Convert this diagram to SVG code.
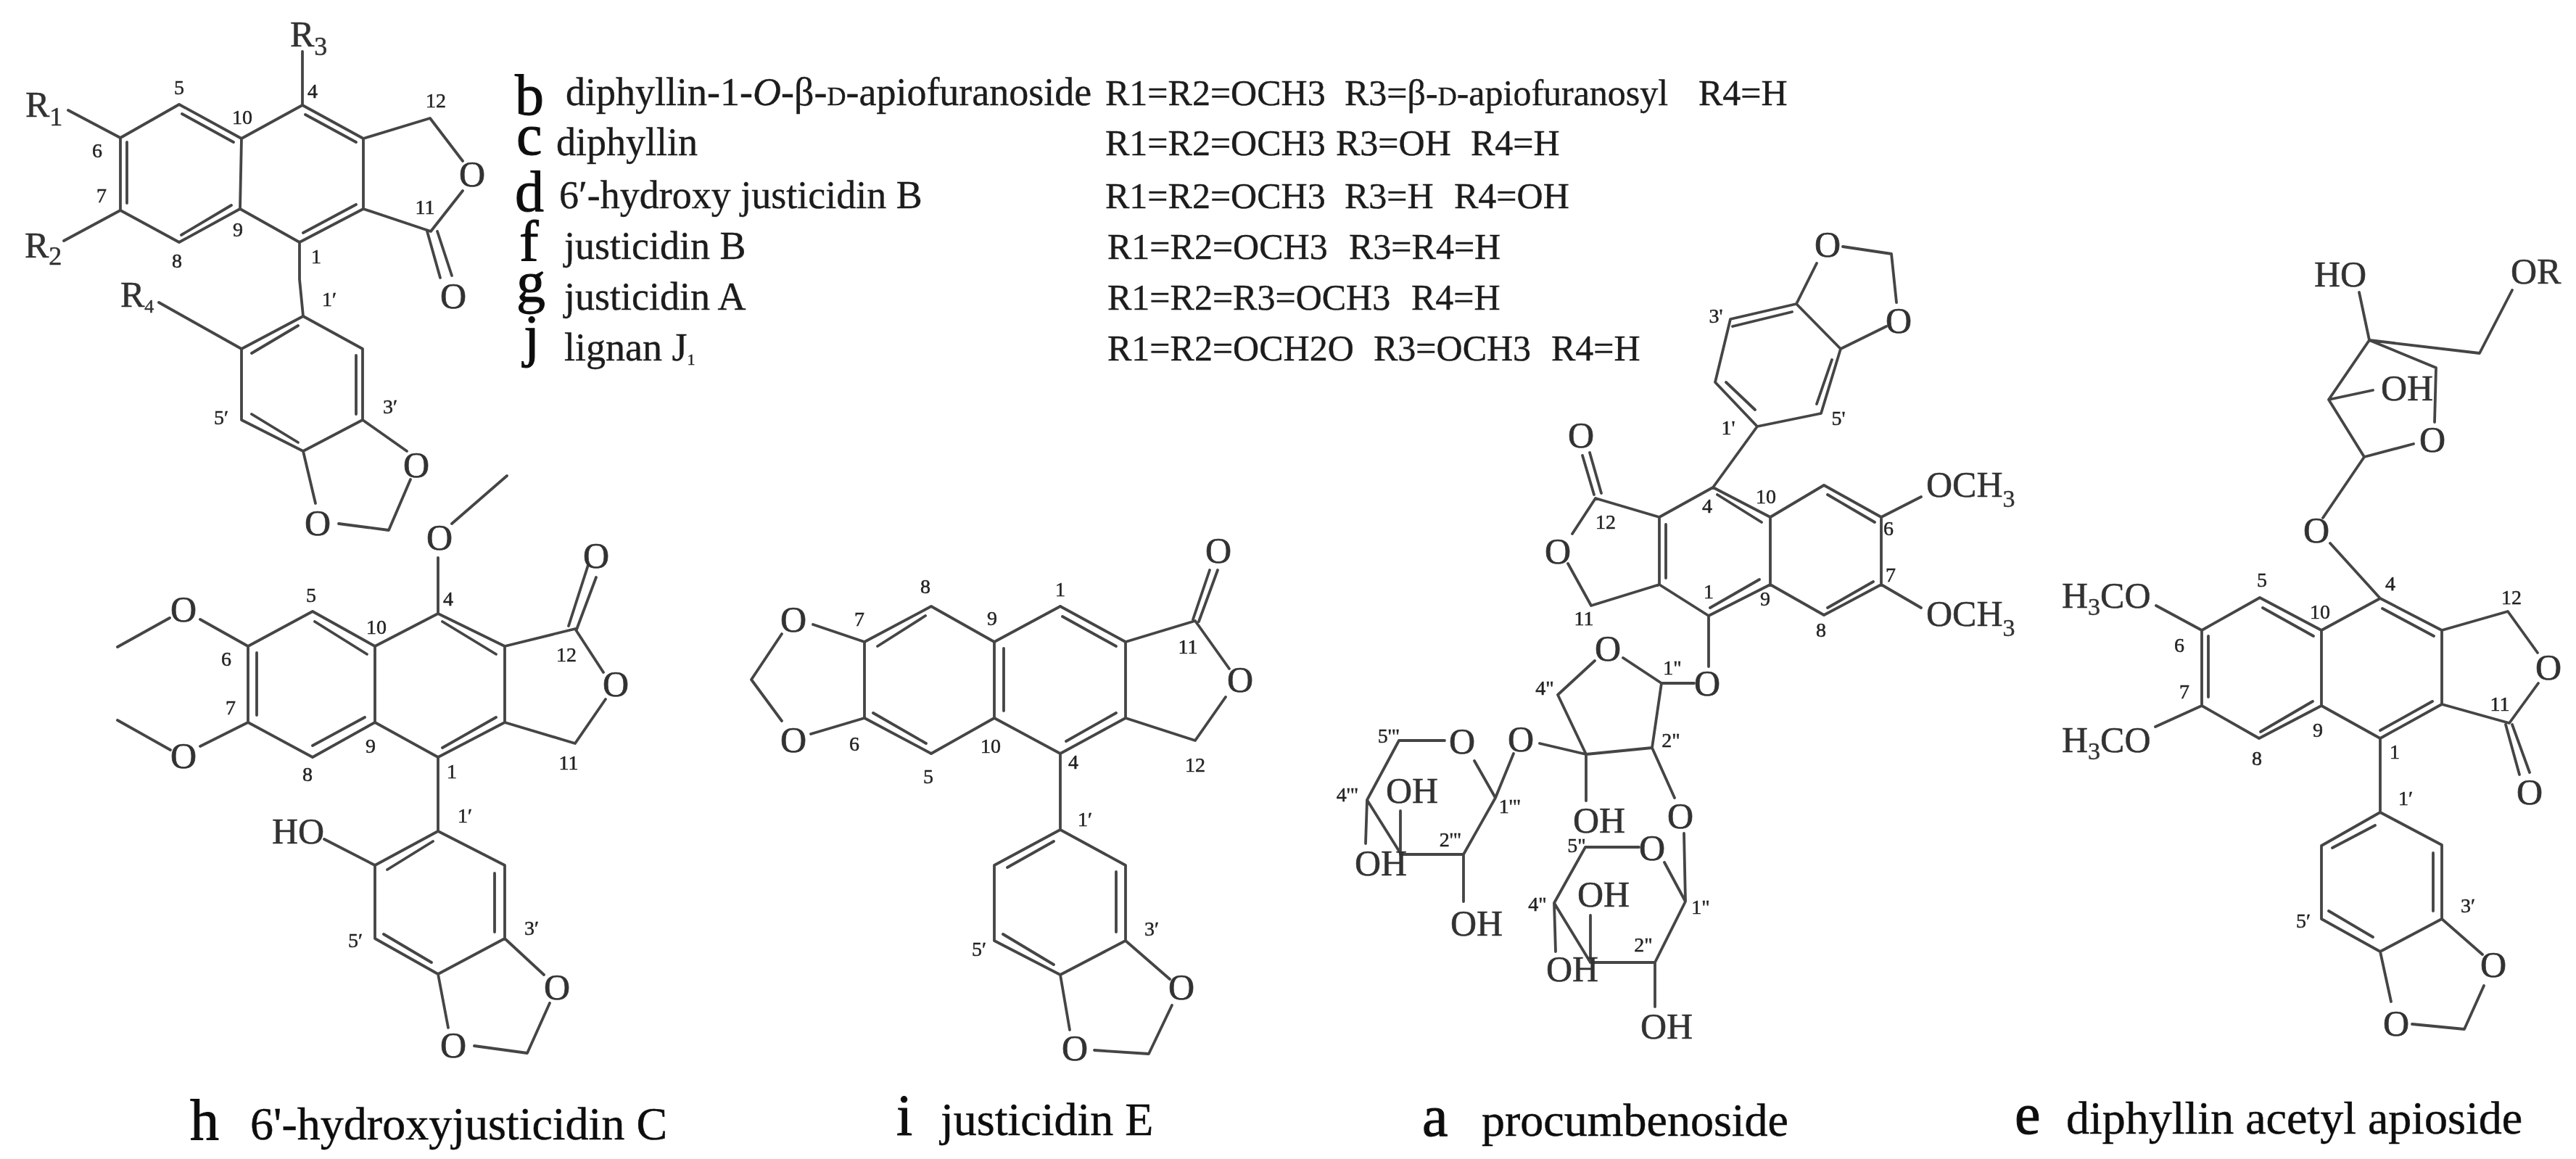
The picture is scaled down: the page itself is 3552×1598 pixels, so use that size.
<svg xmlns="http://www.w3.org/2000/svg" width="3552" height="1598" viewBox="0 0 3552 1598">
<defs><filter id="soft" x="0" y="0" width="3552" height="1598" filterUnits="userSpaceOnUse"><feGaussianBlur stdDeviation="0.7"/></filter></defs>
<style>
text{font-family:"Liberation Serif","Times New Roman",serif;fill:#1c1c1c}
.b{fill:none;stroke:#444;stroke-width:3.8;stroke-linecap:round;stroke-linejoin:round}
.o{font-size:50px;text-anchor:middle;dominant-baseline:central;fill:#333;stroke:#333;stroke-width:.7}
.a{font-size:50px;fill:#333;stroke:#333;stroke-width:.5}
.n{font-size:28px;text-anchor:middle;dominant-baseline:central;fill:#222;stroke:#222;stroke-width:.5}
.sub{font-size:36px}
.cap{font-size:64px;fill:#111;stroke:#111;stroke-width:.5}
.let{font-size:80px;fill:#111;stroke:#111;stroke-width:1}
.nm{font-size:54px;stroke:#1c1c1c;stroke-width:.4}
.r{font-size:50px;stroke:#1c1c1c;stroke-width:.4}
</style>
<rect width="3552" height="1598" fill="#fff"/>
<g filter="url(#soft)">
<g id="connectors">
<path id="bonds-top" class="b" d="M417 71V145M417 145L501 191L501 288L413 334L331 288L333 191L417 145M421 158L491 196M491 282L418 321M333 191L247 144L166 190L166 290L247 334L331 288M251 157L322 196M175 196V280M250 324L319 283M501 191L593 163L638 222M638 263L594 319L501 288M589 319L607 383M603 319L623 380M94 152L166 190M88 332L166 290M413 334L413 385L418 436M219 417L333 481M418 436L500 481L500 579L418 622L333 579L333 481L418 436M347 487L411 449M491 490V571M347 571L411 610M500 579L561 622M566 661L536 731L467 722M435 694L418 622"/>
<path id="bonds-h" class="b" d="M699 656L623 722M604 769V846M604 846L696 891L696 996L604 1044L517 996L517 891L604 846M610 857L684 902M610 1031L684 989M517 891L431 843L342 891L342 996L431 1044L517 996M434 857L506 902M354 900V986M431 1028L503 989M696 891L793 867L832 927M835 964L793 1025L696 996M784 863L811 779M795 868L822 796M276 854L342 891M276 1029L342 996M234 852L162 892M235 1034L162 993M604 1044V1146M604 1146L696 1193L696 1294L604 1343L517 1294L517 1193L604 1146M534 1199L597 1160M682 1204V1285M529 1288L595 1327M447 1157L517 1193M696 1294L750 1344M758 1383L727 1452L654 1442M618 1417L604 1343"/>
<path id="bonds-i" class="b" d="M1462 836L1552 885L1552 990L1462 1039L1371 990L1371 885L1462 836M1465 850L1539 891M1470 1022L1539 983M1384 894V980M1371 885L1284 836L1192 885L1192 990L1284 1039L1371 990M1210 891L1276 849M1204 983L1277 1025M1552 885L1648 856L1695 922M1690 961L1648 1021L1552 990M1645 854L1668 786M1653 857L1679 786M1121 861L1192 885M1118 1012L1192 990M1078 874L1036 937L1078 994M1462 1039V1144M1462 1144L1552 1193L1552 1297L1462 1344L1371 1297L1371 1193L1462 1144M1389 1196L1453 1160M1539 1202V1285M1383 1288L1453 1330M1552 1297L1613 1350M1616 1386L1584 1453L1509 1448M1475 1420L1462 1344"/>
<path id="bonds-a" class="b" d="M2505 363L2477 419L2386 440L2365 527L2423 588L2511 570L2538 481L2477 419M2389 450L2471 430M2380 527L2420 565M2526 496L2505 557M2541 340L2608 350L2615 417M2601 450L2538 481M2423 588L2362 672L2441 713L2441 806L2356 849L2288 806L2288 713L2362 672M2368 682L2429 720M2358 838L2426 799M2297 723V797M2441 713L2515 669L2594 713L2594 806L2515 848L2441 806M2520 682L2585 720M2520 838L2583 802M2288 713L2200 687L2168 736M2162 777L2194 835L2288 806M2182 628L2198 682M2192 624L2208 680M2594 713L2649 685M2594 806L2649 838M2356 849V919M2336 942H2291L2238 907M2199 911L2148 958L2187 1040L2278 1031L2291 942M2123 1025L2187 1040V1104M2278 1031L2309 1100M2260 1168H2186L2143 1245L2193 1327H2282L2324 1243L2295 1189M2322 1149L2324 1243M2143 1245L2145 1312M2193 1262V1327M2282 1327V1388M1992 1021H1929L1885 1103L1932 1178H2018L2062 1100L2033 1049M2087 1039L2062 1100M1885 1103L1883 1163M1931 1118V1178M2018 1178V1243"/>
<path id="bonds-e" class="b" d="M3253 403L3267 469L3419 487L3464 400M3267 469L3359 507L3357 582M3267 469L3211 551L3260 630L3328 612M3211 551L3272 538M3260 630L3203 714M3213 749L3282 825L3367 869L3367 971L3282 1018L3201 973L3201 869L3282 825M3285 839L3356 877M3282 1007L3354 967M3201 869L3116 824L3036 869L3036 973L3115 1018L3201 973M3120 838L3190 877M3045 877V961M3117 1009L3189 967M2973 835L3036 869M2972 1002L3036 973M3367 869L3458 843L3499 900M3500 942L3460 997L3367 971M3455 999L3474 1068M3464 999L3488 1065M3282 1018V1120M3282 1120L3367 1165L3367 1267L3282 1312L3201 1267L3201 1166L3282 1120M3216 1169L3275 1138M3355 1176V1256M3211 1256L3272 1292M3367 1267L3423 1316M3425 1359L3398 1419L3326 1412M3297 1381L3282 1312"/>
</g>

<g id="molecule-top">
<text class="a" x="400" y="64">R<tspan class="sub" dy="12">3</tspan></text>
<text class="a" x="35" y="161">R<tspan class="sub" dy="12">1</tspan></text>
<text class="a" x="34" y="355">R<tspan class="sub" dy="10">2</tspan></text>
<text class="a" x="166" y="423">R<tspan font-size="26" dy="8">4</tspan></text>
<text class="o" x="651" y="240">O</text><text class="o" x="625" y="408">O</text><text class="o" x="574" y="641">O</text><text class="o" x="438" y="721">O</text>
<text class="n" x="247" y="120">5</text><text class="n" x="334" y="161">10</text><text class="n" x="431" y="125">4</text><text class="n" x="601" y="138">12</text><text class="n" x="134" y="207">6</text><text class="n" x="140" y="269">7</text><text class="n" x="328" y="316">9</text><text class="n" x="244" y="359">8</text><text class="n" x="436" y="353">1</text><text class="n" x="586" y="285">11</text><text class="n" x="454" y="412">1′</text><text class="n" x="538" y="560">3′</text><text class="n" x="305" y="575">5′</text>
</g>

<g id="legend">
<text class="let" x="710" y="158">b</text><text class="let" x="712" y="213">c</text><text class="let" x="710" y="291">d</text><text class="let" x="716" y="360">f</text><text class="let" x="712" y="416">g</text><text class="let" x="722" y="490">j</text>
<text class="nm" x="780" y="145">diphyllin-1-<tspan font-style="italic">O</tspan>-β-<tspan font-size="36">D</tspan>-apiofuranoside</text>
<text class="r" x="1524" y="145">R1=R2=OCH3<tspan x="1854">R3=β-<tspan font-size="36">D</tspan>-apiofuranosyl</tspan><tspan x="2342">R4=H</tspan></text>
<text class="nm" x="767" y="214">diphyllin</text>
<text class="r" x="1524" y="214">R1=R2=OCH3<tspan x="1842">R3=OH</tspan><tspan x="2028">R4=H</tspan></text>
<text class="nm" x="771" y="287">6′-hydroxy justicidin B</text>
<text class="r" x="1524" y="287">R1=R2=OCH3<tspan x="1854">R3=H</tspan><tspan x="2005">R4=OH</tspan></text>
<text class="nm" x="778" y="357">justicidin B</text>
<text class="r" x="1527" y="357">R1=R2=OCH3<tspan x="1860">R3=R4=H</tspan></text>
<text class="nm" x="778" y="427">justicidin A</text>
<text class="r" x="1527" y="427">R1=R2=R3=OCH3<tspan x="1946">R4=H</tspan></text>
<text class="nm" x="778" y="497">lignan J<tspan font-size="22" dy="6">1</tspan></text>
<text class="r" x="1527" y="497">R1=R2=OCH2O<tspan x="1894">R3=OCH3</tspan><tspan x="2139">R4=H</tspan></text>
</g>

<g id="molecule-h">
<text class="o" x="606" y="741">O</text><text class="o" x="822" y="766">O</text><text class="o" x="849" y="943">O</text><text class="o" x="253" y="840">O</text><text class="o" x="253" y="1042">O</text><text class="o" x="768" y="1361">O</text><text class="o" x="625" y="1441">O</text>
<text class="a" x="375" y="1163">HO</text>
<text class="n" x="429" y="820">5</text><text class="n" x="519" y="864">10</text><text class="n" x="618" y="825">4</text><text class="n" x="312" y="908">6</text><text class="n" x="318" y="975">7</text><text class="n" x="424" y="1067">8</text><text class="n" x="511" y="1028">9</text><text class="n" x="623" y="1063">1</text><text class="n" x="781" y="902">12</text><text class="n" x="784" y="1051">11</text><text class="n" x="641" y="1124">1′</text><text class="n" x="733" y="1279">3′</text><text class="n" x="490" y="1296">5′</text>
<text class="let" x="262" y="1571">h</text><text class="cap" x="345" y="1571">6'-hydroxyjusticidin C</text>
</g>

<g id="molecule-i">
<text class="o" x="1680" y="759">O</text><text class="o" x="1710" y="937">O</text><text class="o" x="1094" y="854">O</text><text class="o" x="1094" y="1020">O</text><text class="o" x="1629" y="1361">O</text><text class="o" x="1482" y="1445">O</text>
<text class="n" x="1276" y="808">8</text><text class="n" x="1462" y="812">1</text><text class="n" x="1185" y="853">7</text><text class="n" x="1368" y="852">9</text><text class="n" x="1638" y="891">11</text><text class="n" x="1178" y="1025">6</text><text class="n" x="1366" y="1028">10</text><text class="n" x="1480" y="1050">4</text><text class="n" x="1280" y="1070">5</text><text class="n" x="1648" y="1054">12</text><text class="n" x="1496" y="1129">1′</text><text class="n" x="1588" y="1280">3′</text><text class="n" x="1350" y="1308">5′</text>
<text class="let" x="1236" y="1565">i</text><text class="cap" x="1297" y="1565">justicidin E</text>
</g>

<g id="molecule-a">
<text class="o" x="2520" y="337">O</text><text class="o" x="2618" y="442">O</text><text class="o" x="2180" y="600">O</text><text class="o" x="2148" y="760">O</text><text class="o" x="2354" y="942">O</text><text class="o" x="2217" y="894">O</text><text class="o" x="2097" y="1019">O</text><text class="o" x="2317" y="1125">O</text><text class="o" x="2278" y="1169">O</text><text class="o" x="2016" y="1022">O</text>
<text class="a" x="2656" y="685">OCH<tspan font-size="34" dy="14">3</tspan></text>
<text class="a" x="2656" y="863">OCH<tspan font-size="34" dy="14">3</tspan></text>
<text class="a" x="2169" y="1148">OH</text><text class="a" x="2132" y="1353">OH</text><text class="a" x="2175" y="1250">OH</text><text class="a" x="2262" y="1432">OH</text><text class="a" x="1868" y="1207">OH</text><text class="a" x="1911" y="1107">OH</text><text class="a" x="2000" y="1290">OH</text>
<text class="n" x="2366" y="435">3'</text><text class="n" x="2383" y="589">1'</text><text class="n" x="2535" y="576">5'</text><text class="n" x="2354" y="697">4</text><text class="n" x="2435" y="684">10</text><text class="n" x="2214" y="719">12</text><text class="n" x="2604" y="728">6</text><text class="n" x="2607" y="792">7</text><text class="n" x="2356" y="815">1</text><text class="n" x="2434" y="825">9</text><text class="n" x="2511" y="868">8</text><text class="n" x="2184" y="852">11</text>
<text class="n" x="2306" y="920">1"</text><text class="n" x="2130" y="948">4"</text><text class="n" x="2304" y="1020">2"</text><text class="n" x="1915" y="1014">5'"</text><text class="n" x="2082" y="1111">1'"</text><text class="n" x="2000" y="1157">2'"</text><text class="n" x="1858" y="1095">4'"</text><text class="n" x="2174" y="1165">5"</text><text class="n" x="2120" y="1246">4"</text><text class="n" x="2345" y="1250">1"</text><text class="n" x="2266" y="1302">2"</text>
<text class="let" x="1961" y="1566">a</text><text class="cap" x="2043" y="1566">procumbenoside</text>
</g>

<g id="molecule-e">
<text class="a" x="3191" y="395">HO</text><text class="a" x="3462" y="391">OR</text><text class="a" x="3283" y="552">OH</text>
<text class="o" x="3354" y="606">O</text><text class="o" x="3194" y="731">O</text><text class="o" x="3514" y="920">O</text><text class="o" x="3488" y="1092">O</text><text class="o" x="3438" y="1330">O</text><text class="o" x="3304" y="1411">O</text>
<text class="a" x="2843" y="838">H<tspan font-size="34" dy="10">3</tspan><tspan dy="-10">CO</tspan></text>
<text class="a" x="2843" y="1037">H<tspan font-size="34" dy="10">3</tspan><tspan dy="-10">CO</tspan></text>
<text class="n" x="3119" y="799">5</text><text class="n" x="3199" y="843">10</text><text class="n" x="3296" y="804">4</text><text class="n" x="3463" y="823">12</text><text class="n" x="3005" y="889">6</text><text class="n" x="3012" y="953">7</text><text class="n" x="3196" y="1006">9</text><text class="n" x="3112" y="1045">8</text><text class="n" x="3302" y="1036">1</text><text class="n" x="3447" y="970">11</text><text class="n" x="3317" y="1100">1′</text><text class="n" x="3403" y="1248">3′</text><text class="n" x="3176" y="1269">5′</text>
<text class="let" x="2778" y="1563">e</text><text class="cap" x="2849" y="1563">diphyllin acetyl apioside</text>
</g>
</g>
</svg>
